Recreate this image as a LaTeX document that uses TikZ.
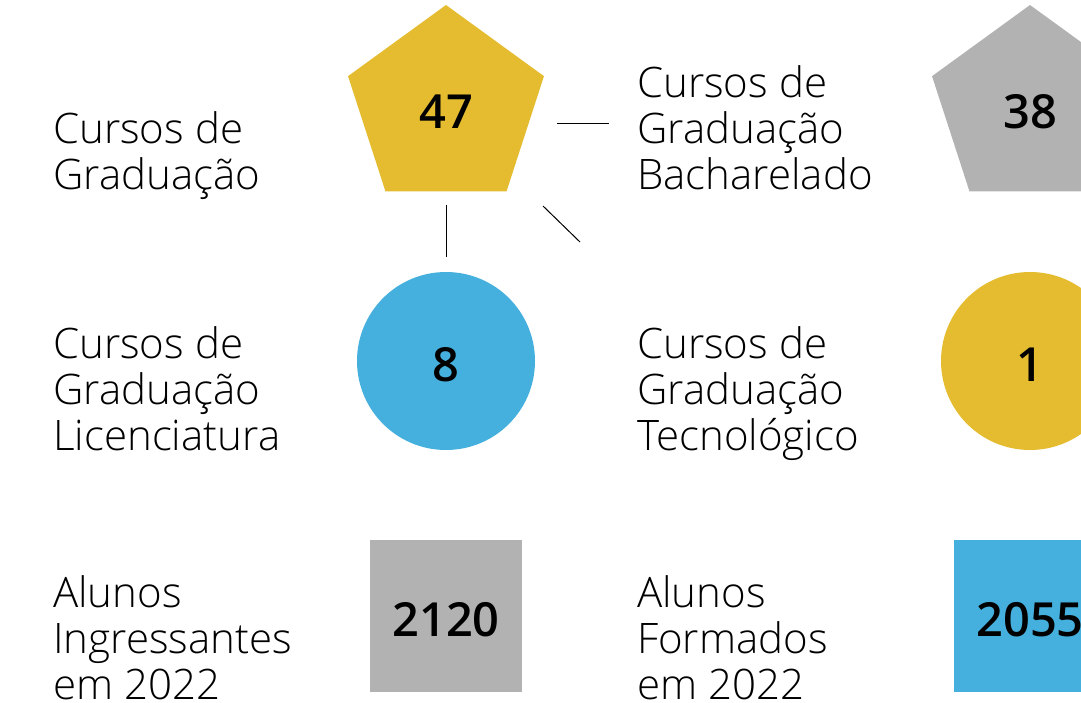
\documentclass[tikz,border=0pt]{standalone}
\usepackage{fontspec}
\setmainfont{Open Sans}[UprightFont=* Light, BoldFont=* Semibold]
\usetikzlibrary{shapes.geometric}
\definecolor{ouro}{RGB}{229,188,48}
\definecolor{cinza}{RGB}{178,178,178}
\definecolor{azul}{RGB}{69,176,221}
\tikzset{
  rotulo/.style={anchor=base west,align=left,inner sep=0pt,
    font=\fontsize{42pt}{46pt}\selectfont},
  numero/.style={inner sep=0pt,outer sep=0pt,text height=40pt,text depth=0pt,
    font=\fontsize{47pt}{50pt}\selectfont\bfseries},
  penta/.style={numero,regular polygon,regular polygon sides=5,minimum size=206pt},
  bola/.style={numero,circle,minimum size=178pt},
  caixa/.style={numero,rectangle,minimum size=152pt}
}

\begin{document}
\begin{tikzpicture}[x=1pt,y=-1pt]
\path [use as bounding box,clip] (0,0) rectangle (1081,702);
% formas
\node [penta,fill=ouro] (cursos) at (446,108) {47};
\node [penta,fill=cinza] (bach) at (1030,108) {38};
\node [bola,fill=azul] (lic) at (446,361) {8};
\node [bola,fill=ouro] (tec) at (1030,361) {1};
\node [caixa,fill=cinza] (ingr) at (446,616) {2120};
\node [caixa,fill=azul] (form) at (1030,616) {2055};
% rotulos
\node [rotulo] (tcursos) at (53,189) {Cursos de\\Graduação};
\node [rotulo] (tbach) at (637,189) {Cursos de\\Graduação\\Bacharelado};
\node [rotulo] (tlic) at (53,450) {Cursos de\\Graduação\\Licenciatura};
\node [rotulo] (ttec) at (637,450) {Cursos de\\Graduação\\Tecnológico};
\node [rotulo] (tingr) at (53,699) {Alunos\\Ingressantes\\em 2022};
\node [rotulo] (tform) at (637,699) {Alunos\\Formados\\em 2022};
% ligacoes
\coordinate (h1) at (557,123);
\coordinate (h2) at (609,123);
\coordinate (v1) at (446,205);
\coordinate (v2) at (446,257);
\coordinate (d1) at (543,206);
\coordinate (d2) at (580,242);
\draw [line width=1pt] (h1)--(h2);
\draw [line width=1pt] (v1)--(v2);
\draw [line width=1pt] (d1)--(d2);
\end{tikzpicture}
\end{document}
